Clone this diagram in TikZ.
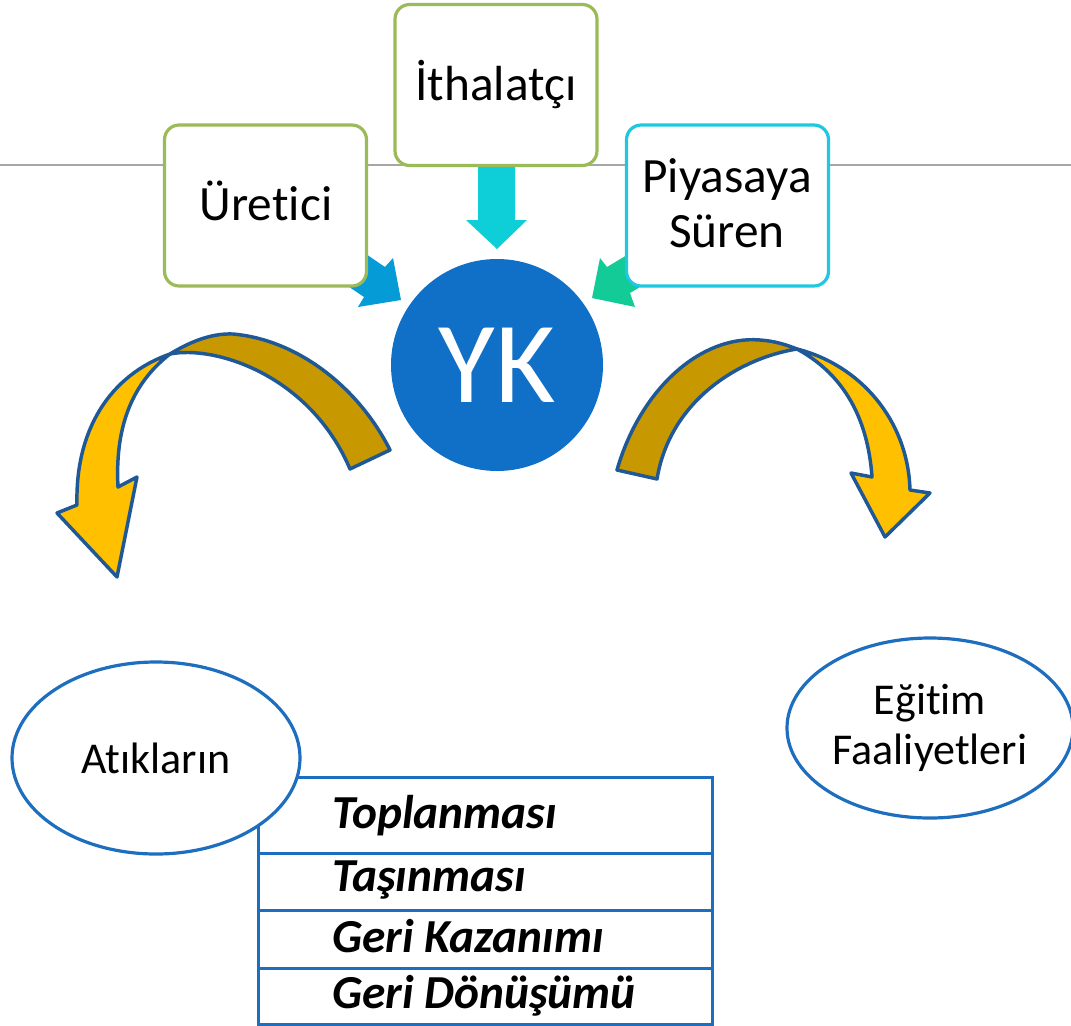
\documentclass[tikz,border=0pt]{standalone}
\usepackage{fontspec}
\setmainfont{Carlito}[Ligatures={NoCommon}]
\usetikzlibrary{shapes.geometric}
\definecolor{boxgreen}{RGB}{155,187,89}
\definecolor{boxcyan}{RGB}{30,200,225}
\definecolor{arrcyan}{RGB}{14,207,216}
\definecolor{arrblue}{RGB}{4,155,214}
\definecolor{arrgreen}{RGB}{18,203,150}
\definecolor{ykblue}{RGB}{16,111,198}
\definecolor{darkgold}{RGB}{200,152,0}
\definecolor{gold}{RGB}{255,192,0}
\definecolor{arrline}{RGB}{31,88,150}
\definecolor{lineblue}{RGB}{30,110,192}
\definecolor{rulegray}{RGB}{166,166,166}
\begin{document}
\begin{tikzpicture}[x=0.75pt,y=-0.75pt,
  box/.style={draw, line width=2.4pt, rounded corners=11pt, fill=white,
    minimum width={202*0.75pt}, minimum height={161*0.75pt}, inner sep=0pt},
  boxtxt/.style={font=\fontsize{37}{40}\selectfont, inner sep=0pt, anchor=base},
  curvarrow/.style={draw=arrline, line width=2.6pt, line join=round},
  blob/.style={ellipse, draw=lineblue, line width=2.4pt, fill=white, inner sep=0pt,
    font=\fontsize{33}{38}\selectfont, align=center},
  rowbox/.style={draw=lineblue, line width=2.4pt, minimum width={454*0.75pt},
    inner sep=0pt, anchor=north west},
  rowtxt/.style={font=\fontsize{35.5}{40}\selectfont\bfseries\itshape, inner sep=0pt, anchor=base west}
]
\useasboundingbox (0,0) rectangle (1071,1025);

% gray rule
\draw[rulegray, line width=1.5pt] (0,165) -- (1071,165);

% small block arrows
\fill[arrblue] (335,233) -- (385,267) -- (393,258) -- (401,300) -- (358,307) -- (364,297) -- (314,263) -- cycle;
\fill[arrgreen] (657,237) -- (607,267) -- (600,258) -- (592,298) -- (635,307) -- (630,293) -- (680,263) -- cycle;
\fill[arrcyan] (478,160) -- (515,160) -- (515,220) -- (527,220) -- (497,249) -- (466,220) -- (478,220) -- cycle;

% boxes
\node[box, draw=boxgreen] (ure) at (265.5,205.5) {};
\node[box, draw=boxgreen] (ith) at (496,85) {};
\node[box, draw=boxcyan] (piy) at (727.5,205.5) {};
\node[boxtxt] (ture) at (266,220) {Üretici};
\node[boxtxt] (tith) at (496,100) {İthalatçı};
\node[boxtxt] (tpiy1) at (727,192) {Piyasaya};
\node[boxtxt] (tpiy2) at (727,247) {Süren};

% YK circle
\node[circle, fill=ykblue, minimum size={212*0.75pt}, inner sep=0pt, text=white,
  font=\fontsize{87}{90}\selectfont] (yk) at (497,365) {YK};

% left curved arrow
\filldraw[curvarrow, fill=darkgold] (390,450) .. controls (360,390) and (300,340) .. (233,334)
  .. controls (210,333) and (188,343) .. (170,354)
  .. controls (215,345) and (310,375) .. (350,469) -- cycle;
\filldraw[curvarrow, fill=gold] (170,354) .. controls (110,375) and (75,430) .. (77,505)
  -- (57,513) -- (117,577) -- (137,477) -- (118,487)
  .. controls (115,430) and (130,385) .. (170,354) -- cycle;

% right curved arrow
\filldraw[curvarrow, fill=darkgold] (617,470) .. controls (640,390) and (700,335) .. (760,340)
  .. controls (775,341) and (787,345) .. (797,349)
  .. controls (740,358) and (670,400) .. (657,479) -- cycle;
\filldraw[curvarrow, fill=gold] (797,349) .. controls (860,365) and (908,420) .. (910,490)
  -- (930,493) -- (885,537) -- (851,473) -- (872,477)
  .. controls (868,420) and (845,375) .. (797,349) -- cycle;

% table
\node[rowbox, minimum height={76*0.75pt}] (r1) at (257,776) {};
\node[rowbox, minimum height={57*0.75pt}] (r2) at (257,852) {};
\node[rowbox, minimum height={58*0.75pt}] (r3) at (257,909) {};
\node[rowbox, minimum height={56*0.75pt}] (r4) at (257,967) {};
\node[rowtxt] (t1) at (332,828) {Toplanması};
\node[rowtxt] (t2) at (332,891) {Taşınması};
\node[rowtxt] (t3) at (332,952) {Geri Kazanımı};
\node[rowtxt] (t4) at (332,1008) {Geri Dönüşümü};

% ellipses
\node[blob, minimum width={288*0.75pt}, minimum height={192*0.75pt}] (atik) at (156,758) {Atıkların};
\node[blob, minimum width={286*0.75pt}, minimum height={180*0.75pt}] (egit) at (930,728) {Eğitim\\Faaliyetleri};
\end{tikzpicture}
\end{document}
